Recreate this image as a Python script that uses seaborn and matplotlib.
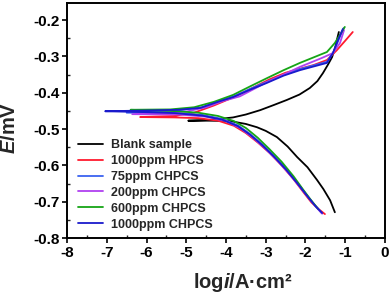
import numpy as np
import pandas as pd
import matplotlib
matplotlib.use("Agg")
import matplotlib.pyplot as plt
import seaborn as sns
from matplotlib.ticker import MultipleLocator

# ---------------- data ----------------
labels = ["Blank sample", "1000ppm HPCS", "75ppm CHPCS",
          "200ppm CHPCS", "600ppm CHPCS", "1000ppm CHPCS"]
colors = ["#000000", "#FF1A2E", "#3A62F0", "#B040F0", "#16A516", "#1A1ACC"]

blank_logi = [-1.26, -1.38, -1.55, -1.71, -1.95, -2.21, -2.45, -2.72, -3.0, -3.22, -3.5, -3.9, -4.4, -4.95,
              -4.4, -3.82, -3.5, -3.14, -2.8, -2.47, -2.15, -1.89, -1.7, -1.56, -1.43, -1.33, -1.25, -1.21, -1.16]
blank_E = [-0.729, -0.696, -0.665, -0.640, -0.605, -0.577, -0.548, -0.522, -0.505, -0.495, -0.486, -0.478, -0.477, -0.477,
           -0.475, -0.468, -0.460, -0.448, -0.434, -0.420, -0.405, -0.387, -0.368, -0.346, -0.322, -0.302, -0.275, -0.255, -0.233]

hpcs1000_logi = [-1.51, -1.65, -1.85, -2.05, -2.3, -2.6, -2.9, -3.2, -3.5, -3.8, -4.2, -4.7, -5.3, -6.16,
                 -5.3, -4.8, -4.3, -3.8, -3.3, -2.9, -2.5, -2.14, -1.8, -1.46, -1.21, -1.0, -0.81]
hpcs1000_E = [-0.734, -0.722, -0.702, -0.674, -0.638, -0.600, -0.566, -0.537, -0.511, -0.491, -0.477, -0.470, -0.468, -0.467,
              -0.464, -0.455, -0.435, -0.412, -0.385, -0.363, -0.345, -0.334, -0.324, -0.310, -0.283, -0.257, -0.233]

chpcs75_logi = [-1.6, -1.76, -1.96, -2.2, -2.5, -2.8, -3.1, -3.4, -3.7, -4.1, -4.6, -5.3, -6.5,
                -5.3, -4.6, -4.2, -3.8, -3.4, -2.97, -2.55, -2.14, -1.8, -1.46, -1.28, -1.15, -1.04]
chpcs75_E = [-0.730, -0.710, -0.683, -0.648, -0.608, -0.573, -0.541, -0.513, -0.490, -0.472, -0.461, -0.456, -0.455,
             -0.450, -0.440, -0.424, -0.410, -0.390, -0.370, -0.351, -0.335, -0.325, -0.315, -0.285, -0.250, -0.222]

chpcs200_logi = [-1.58, -1.72, -1.9, -2.15, -2.45, -2.75, -3.05, -3.35, -3.65, -4.0, -4.5, -5.2, -6.36,
                 -5.0, -4.5, -4.08, -3.65, -3.3, -2.97, -2.55, -2.14, -1.6, -1.31, -1.13, -1.03]
chpcs200_E = [-0.733, -0.716, -0.692, -0.658, -0.618, -0.582, -0.550, -0.521, -0.497, -0.478, -0.466, -0.460, -0.459,
              -0.452, -0.440, -0.423, -0.410, -0.390, -0.371, -0.350, -0.329, -0.305, -0.291, -0.263, -0.228]

chpcs600_logi = [-1.68, -1.85, -2.05, -2.3, -2.6, -2.9, -3.2, -3.5, -3.8, -4.2, -4.7, -5.4, -6.4,
                 -5.4, -4.8, -4.3, -3.82, -3.4, -2.97, -2.55, -2.14, -1.8, -1.46, -1.26, -1.1, -1.01]
chpcs600_E = [-0.720, -0.697, -0.668, -0.630, -0.590, -0.556, -0.524, -0.497, -0.478, -0.464, -0.455, -0.450, -0.447,
              -0.446, -0.440, -0.425, -0.406, -0.383, -0.360, -0.338, -0.318, -0.303, -0.288, -0.263, -0.235, -0.219]

chpcs1000_logi = [-1.58, -1.75, -1.95, -2.2, -2.5, -2.8, -3.1, -3.4, -3.7, -4.1, -4.6, -5.3, -6.2, -7.04,
                  -6.0, -5.2, -4.65, -4.2, -3.82, -3.4, -2.97, -2.55, -2.14, -1.8, -1.46, -1.31, -1.18, -1.06]
chpcs1000_E = [-0.731, -0.712, -0.685, -0.650, -0.610, -0.575, -0.543, -0.515, -0.492, -0.474, -0.463, -0.456, -0.453, -0.451,
               -0.449, -0.447, -0.442, -0.425, -0.412, -0.392, -0.373, -0.353, -0.338, -0.328, -0.318, -0.291, -0.255, -0.225]

series_x = [blank_logi, hpcs1000_logi, chpcs75_logi, chpcs200_logi, chpcs600_logi, chpcs1000_logi]
series_y = [blank_E, hpcs1000_E, chpcs75_E, chpcs200_E, chpcs600_E, chpcs1000_E]

frames = []
for lab, xs, ys in zip(labels, series_x, series_y):
    frames.append(pd.DataFrame({"logi": xs, "E": ys, "sample": lab,
                                "order": np.arange(len(xs))}))
df = pd.concat(frames, ignore_index=True)

# ---------------- figure ----------------
sns.set_theme(style="white")
plt.rcParams["font.family"] = ["Liberation Sans", "DejaVu Sans"]
plt.rcParams["font.weight"] = "bold"
plt.rcParams["mathtext.fontset"] = "custom"
plt.rcParams["mathtext.rm"] = "Liberation Sans:bold"
plt.rcParams["mathtext.bf"] = "Liberation Sans:bold"
plt.rcParams["mathtext.it"] = "Liberation Sans:italic:bold"
plt.rcParams["mathtext.bfit"] = "Liberation Sans:italic:bold"

fig = plt.figure(figsize=(3.92, 2.95), dpi=100)
ax = fig.add_axes([0.171, 0.193, 0.811, 0.797])

sns.lineplot(data=df, x="logi", y="E", hue="sample", hue_order=labels,
             palette=dict(zip(labels, colors)), sort=False, estimator=None,
             linewidth=1.3, ax=ax)

ax.set_xlim(-8, 0)
ax.set_ylim(-0.8, -0.153)
ax.xaxis.set_major_locator(MultipleLocator(1))
ax.xaxis.set_minor_locator(MultipleLocator(0.5))
ax.yaxis.set_major_locator(MultipleLocator(0.1))
ax.yaxis.set_minor_locator(MultipleLocator(0.05))
ax.set_xticks(np.arange(-8, 1, 1))
ax.set_xticklabels([str(v) for v in range(-8, 1)])
ax.set_yticks([-0.8, -0.7, -0.6, -0.5, -0.4, -0.3, -0.2])
ax.set_yticklabels(["-0.8", "-0.7", "-0.6", "-0.5", "-0.4", "-0.3", "-0.2"])

ax.tick_params(axis="both", which="major", direction="out", length=3.5, width=1.2,
               labelsize=11, pad=2, colors="black", bottom=True, left=True)
ax.tick_params(axis="both", which="minor", direction="in", length=2, width=1.0,
               bottom=True, left=True)
for lab in ax.get_xticklabels() + ax.get_yticklabels():
    lab.set_fontweight("bold")

for sp in ax.spines.values():
    sp.set_linewidth(1.4)
    sp.set_color("black")

ax.set_xlabel("log$\\it{i}$/A\u00b7cm\u00b2", fontsize=14.5, fontweight="bold")
ax.set_ylabel("$\\it{E}$/mV", fontsize=14.5, fontweight="bold")
ax.xaxis.set_label_coords(0.553, -0.14)
ax.yaxis.set_label_coords(-0.15, 0.468)

leg = ax.legend(loc="lower left", bbox_to_anchor=(0.012, 0.0), frameon=False,
                fontsize=9, handlelength=2.0, handletextpad=0.6,
                labelspacing=0.31, borderaxespad=0.2)
for t in leg.get_texts():
    t.set_fontweight("bold")

fig.savefig("out.png", dpi=100)
